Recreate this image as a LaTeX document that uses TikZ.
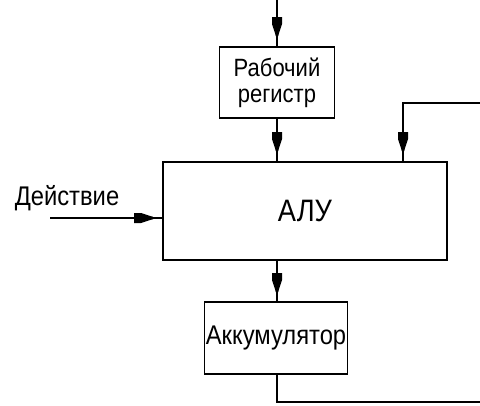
\documentclass[tikz,border=0pt]{standalone}
\usepackage{fontspec}
\setmainfont[FakeStretch=0.88]{Liberation Sans}
\usetikzlibrary{decorations.markings}
\tikzset{
  box/.style={draw, line width=1.6pt, rectangle, inner sep=0pt, align=center},
  conn/.style={line width=1.6pt},
  blunt/.style={postaction={decorate}, decoration={markings,
    mark=at position -#1 with {\fill (-19pt,-5pt) -- (-12pt,-5pt) -- (-3pt,-2pt) -- (0pt,-1.2pt) -- (0pt,1.2pt) -- (-3pt,2pt) -- (-12pt,5pt) -- (-19pt,5pt) -- cycle;}}},
}
\begin{document}
\begin{tikzpicture}[x=1pt,y=-1pt]
\useasboundingbox (0,0) rectangle (480,405);
\node[box, minimum width=115pt, minimum height=71pt, font=\fontsize{25}{26}\selectfont] (rab) at (277,82.5) {Рабочий\\регистр};
\node[box, minimum width=284pt, minimum height=98pt, font=\fontsize{31}{32}\selectfont] (alu) at (305,211) {АЛУ};
\node[box, minimum width=143pt, minimum height=72pt, font=\fontsize{27}{28}\selectfont] (acc) at (276,338) {Аккумулятор};
\node[font=\fontsize{27}{28}\selectfont, inner sep=0pt] (act) at (67,198) {Действие};
\coordinate (topIn) at (277,0);
\coordinate (actIn) at (50,218);
\coordinate (fbR) at (480,103);
\coordinate (fbC) at (403,103);
\coordinate (accC) at (277,402);
\coordinate (accR) at (480,402);
\draw[conn, blunt=10pt] (topIn) -- (rab.north -| topIn);
\draw[conn, blunt=10pt] (rab.south -| topIn) -- (alu.north -| topIn);
\draw[conn, blunt=10pt] (fbR) -- (fbC) -- (alu.north -| fbC);
\draw[conn, blunt=9pt] (actIn) -- (alu.west |- actIn);
\draw[conn, blunt=9pt] (alu.south -| topIn) -- (acc.north -| topIn);
\draw[conn] (acc.south -| topIn) -- (accC) -- (accR);
\end{tikzpicture}
\end{document}
